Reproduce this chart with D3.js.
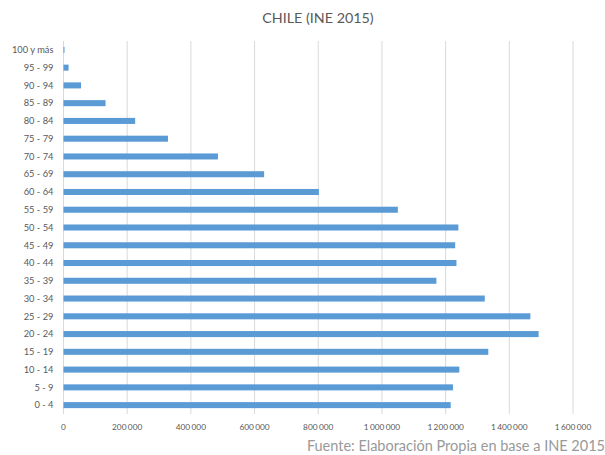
<!DOCTYPE html>
<html>
<head>
<meta charset="utf-8">
<script src="https://cdn.jsdelivr.net/npm/d3@7"></script>
<style>
body { margin: 0; background: #fff; }
svg { display: block; font-family: Lato, "Open Sans", sans-serif; }
</style>
</head>
<body>
<svg id="chart" width="605" height="455"></svg>
<script>
// Values
const ageGroups = ["100 y más", "95 - 99", "90 - 94", "85 - 89", "80 - 84", "75 - 79", "70 - 74",
	"65 - 69", "60 - 64", "55 - 59", "50 - 54", "45 - 49", "40 - 44", "35 - 39", "30 - 34",
	"25 - 29", "20 - 24", "15 - 19", "10 - 14", "5 - 9", "0 - 4"];
const population = [3000, 16000, 55000, 132000, 225000, 328000, 485000,
	630000, 802000, 1050000, 1240000, 1230000, 1234000, 1171000, 1323000,
	1466000, 1492000, 1334000, 1243000, 1223000, 1216000];
const xTicks = [0, 200000, 400000, 600000, 800000, 1000000, 1200000, 1400000, 1600000];
const titleText = "CHILE (INE 2015)";
const sourceText = "Fuente: Elaboración Propia en base a INE 2015";

const barColor = "#5b9bd5";
const gridColor = "#d9d9d9";
const textColor = "#595959";

const svg = d3.select("#chart");
const margin = { top: 41, left: 63.5, bottom: 414, right: 573 };

const x = d3.scaleLinear().domain([0, 1600000]).range([margin.left, margin.right]);
const y = d3.scaleBand().domain(ageGroups).range([margin.top, margin.bottom]).paddingInner(0.66).paddingOuter(0.33);

// thousands separated by a narrow space
const fmt = (d) => d3.format(",")(d).replace(/,/g, "\u2006");

// grid lines
svg.append("g")
	.selectAll("line")
	.data(xTicks)
	.join("line")
	.attr("x1", (d) => x(d))
	.attr("x2", (d) => x(d))
	.attr("y1", margin.top)
	.attr("y2", margin.bottom)
	.attr("stroke", gridColor)
	.attr("stroke-width", 1);

// bars
svg.append("g")
	.selectAll("rect")
	.data(ageGroups.map((g, i) => ({ group: g, value: population[i] })))
	.join("rect")
	.attr("x", x(0))
	.attr("y", (d) => y(d.group))
	.attr("width", (d) => Math.max(1, x(d.value) - x(0)))
	.attr("height", y.bandwidth())
	.attr("fill", barColor);

// category labels
svg.append("g")
	.selectAll("text")
	.data(ageGroups)
	.join("text")
	.attr("x", margin.left - 10)
	.attr("y", (d) => y(d) + y.bandwidth() / 2)
	.attr("dy", "0.35em")
	.attr("text-anchor", "end")
	.attr("font-size", 9.3)
	.attr("fill", textColor)
	.text((d) => d);

// x tick labels
svg.append("g")
	.selectAll("text")
	.data(xTicks)
	.join("text")
	.attr("x", (d) => x(d))
	.attr("y", 430)
	.attr("text-anchor", "middle")
	.attr("font-size", 8.3)
	.attr("fill", textColor)
	.text((d) => fmt(d));

// title
svg.append("text")
	.attr("x", 318)
	.attr("y", 23)
	.attr("text-anchor", "middle")
	.attr("font-size", 14.3)
	.attr("fill", textColor)
	.text(titleText);

// source
svg.append("text")
	.attr("x", 605)
	.attr("y", 451)
	.attr("text-anchor", "end")
	.attr("font-size", 14.5)
	.attr("fill", "#999999")
	.text(sourceText);
</script>
</body>
</html>
